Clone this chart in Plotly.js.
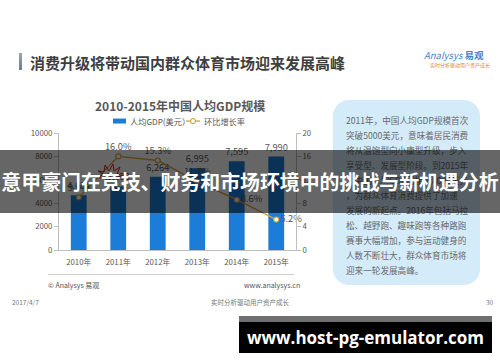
<!DOCTYPE html>
<html>
<head>
<meta charset="utf-8">
<script src="https://cdn.plot.ly/plotly-3.0.1.min.js"></script>
<style>
  html, body { margin: 0; padding: 0; background: #fff; }
  #slide { position: relative; width: 500px; height: 362px; overflow: hidden; background: #fff;
           font-family: "Noto Sans CJK SC", "Noto Sans", sans-serif; }
  .abs { position: absolute; white-space: nowrap; }
  #chart { position: absolute; left: 0; top: 0; width: 500px; height: 362px; z-index: 2; }
  #box { position: absolute; left: 333px; top: 100px; width: 147px; height: 185px; border-radius: 16px;
         background: #d4ebfa; z-index: 1; }
  #box div { position: absolute; left: 13px; font-size: 8.6px; color: #6a6a6a; line-height: 10px; white-space: nowrap; }
  #band { position: absolute; left: 0; top: 150px; width: 500px; height: 63px; background: rgba(0,0,0,0.6);
          z-index: 10; color: #fff; font-weight: bold; font-size: 19.9px; line-height: 63px; text-align: center;
          white-space: nowrap; }
  #banner { position: absolute; left: 239px; top: 316px; width: 253px; height: 37px; z-index: 11; background: #000; }
  #banner .strip { position: absolute; left: 0; top: 0; width: 253px; height: 6px; background: #707070; }
  #banner .txt { position: absolute; left: 0; top: 6px; width: 253px; height: 31px; line-height: 31px; text-align: center;
                 color: #fff; font-weight: bold; font-size: 17px; font-family: "Open Sans", "DejaVu Sans", sans-serif; }
</style>
</head>
<body>
<div id="slide">
  <!-- slide header -->
  <div class="abs" style="left:19px; top:53px; width:3px; height:17px; background:linear-gradient(#9aa7b4,#6d7c8a);"></div>
  <div class="abs" style="left:30px; top:52px; font-size:15px; font-weight:bold; color:#3e3e3e; line-height:22px;">消费升级将带动国内群众体育市场迎来发展高峰</div>
  <div class="abs" style="left:424px; top:49px; font-size:9.5px; color:#3f86c8; font-style:italic; line-height:12px;">Analysys <span style="font-style:normal;font-weight:bold;">易观</span></div>
  <div class="abs" style="left:430px; top:62px; font-size:5px; color:#e0892a; line-height:6px;">实时分析驱动用户资产成长</div>

  <!-- right text box -->
  <div id="box">
    <div style="top:15px;">2011年，中国人均GDP规模首次</div>
    <div style="top:30px;">突破5000美元，意味着居民消费</div>
    <div style="top:45px;">将从温饱型向小康型升级，步入</div>
    <div style="top:60px;">享受型、发展型阶段。到2015年</div>
    <div style="top:75px;">，中国人均GDP已接近8000美元</div>
    <div style="top:90px;">，为群众体育消费提供了加速</div>
    <div style="top:105px;">发展的新起点。2016年包括马拉</div>
    <div style="top:120px;">松、越野跑、趣味跑等各种路跑</div>
    <div style="top:135px;">赛事大幅增加，参与运动健身的</div>
    <div style="top:150px;">人数不断壮大，群众体育市场将</div>
    <div style="top:165px;">迎来一轮发展高峰。</div>
  </div>

  <!-- footer -->
  <div class="abs" style="left:48px; top:273.5px; width:246px; height:1px; background:#d0d0d0;"></div>
  <div class="abs" style="left:48px; top:281px; font-size:7px; color:#555; line-height:9px;">© Analysys 易观</div>
  <div class="abs" style="left:244px; width:48px; text-align:right; top:281px; font-size:7px; color:#555; line-height:9px;">www.analysys.cn</div>
  <div class="abs" style="left:12px; top:298px; font-size:6.5px; color:#777; line-height:9px;">2017/4/7</div>
  <div class="abs" style="left:200px; width:100px; text-align:center; top:298px; font-size:6.5px; color:#777; line-height:9px;">实时分析驱动用户资产成长</div>
  <div class="abs" style="left:486px; top:298px; font-size:6.5px; color:#777; line-height:9px;">30</div>

  <div id="chart"></div>

  <!-- red burst decoration -->
  <svg class="abs" style="left:96px; top:163px; z-index:3;" width="30" height="20" viewBox="0 0 30 20">
    <polygon points="2,8 8,9 9,2 13,8 17,1 18,8 24,4 21,11 28,13 20,14 22,19 15,15 10,19 10,14 3,15 7,11"
             fill="none" stroke="#d22" stroke-width="1"/>
  </svg>

  <div id="band">意甲豪门在竞技、财务和市场环境中的挑战与新机遇分析</div>
  <div id="banner"><div class="strip"></div><div class="txt">www.host-pg-emulator.com</div></div>
</div>

<script>
// ---- data ----
const years = ['2010年', '2011年', '2012年', '2013年', '2014年', '2015年'];
const gdpPerCapita = [4684, 5433, 6264, 6995, 7595, 7990];
const growthRate = [9.0, 16.0, 15.3, 11.7, 8.6, 5.2];
const leftTickVals = [0, 2000, 4000, 6000, 8000, 10000];
const rightTickVals = [0, 4, 8, 12, 16, 20];
const barName = '人均GDP(美元）';
const lineName = '环比增长率';
const chartTitle = '2010-2015年中国人均GDP规模';

const FONT = '"Noto Sans CJK SC", "Noto Sans", sans-serif';
const GRAY = '#595959';
const AXIS = '#bfbfbf';
const BLUE = '#1b7dd8';
const ORANGE = '#d9a23a';

// plot area in pixels: x 59..296, y 133..250.5
const PX = x => (x - 59) / 237;
const PY = y => (250.5 - y) / 117.5;

const linePos = growthRate.map((v, i) => (i >= 4 ? 'middle right' : 'top center'));

const traces = [
  {
    type: 'bar', x: years, y: gdpPerCapita, name: barName,
    marker: { color: BLUE }, width: 0.4,
    text: gdpPerCapita.map(v => v.toLocaleString('en-US')), textposition: 'outside',
    constraintext: 'none',
    textfont: { size: 9.3, color: GRAY, family: FONT }, cliponaxis: false,
    hoverinfo: 'none', showlegend: false
  },
  {
    type: 'scatter', mode: 'lines+markers+text', x: years, y: growthRate, yaxis: 'y2', name: lineName,
    line: { color: ORANGE, width: 1.3 },
    marker: { symbol: 'circle', size: 5, color: '#ffffff', line: { color: ORANGE, width: 1.1 } },
    text: growthRate.map(v => v.toFixed(1) + '%'), textposition: linePos,
    textfont: { size: 9.3, color: GRAY, family: FONT }, cliponaxis: false,
    hoverinfo: 'none', showlegend: false
  }
];

const layout = {
  width: 500, height: 362,
  margin: { l: 59, r: 204, t: 133, b: 111.5, pad: 0 },
  paper_bgcolor: 'rgba(0,0,0,0)', plot_bgcolor: 'rgba(0,0,0,0)',
  font: { family: FONT, color: GRAY, size: 8 },
  showlegend: false,
  xaxis: { type: 'category', showline: true, linecolor: AXIS, linewidth: 1, ticks: '', showgrid: false,
           zeroline: false, ticklabelstandoff: 5, tickfont: { size: 7.8, color: GRAY, family: FONT } },
  yaxis: { range: [0, 10000], tickvals: leftTickVals, tickformat: 'd', showline: true, linecolor: AXIS,
           ticks: 'outside', ticklen: 4, tickcolor: AXIS, showgrid: false, zeroline: false,
           tickfont: { size: 7.8, color: GRAY, family: FONT } },
  yaxis2: { overlaying: 'y', side: 'right', range: [0, 20], tickvals: rightTickVals, ticksuffix: '%',
            showline: true, linecolor: AXIS, ticks: 'outside', ticklen: 4, tickcolor: AXIS,
            showgrid: false, zeroline: false, tickfont: { size: 7.8, color: GRAY, family: FONT } },
  shapes: [
    // legend: bar swatch
    { type: 'rect', xref: 'paper', yref: 'paper', x0: PX(113), x1: PX(126), y0: PY(123.5), y1: PY(118.5),
      fillcolor: BLUE, line: { width: 0 } },
    // legend: line swatch
    { type: 'line', xref: 'paper', yref: 'paper', x0: PX(186), x1: PX(200), y0: PY(121), y1: PY(121),
      line: { color: ORANGE, width: 1.3 } },
    { type: 'circle', xref: 'paper', yref: 'paper', x0: PX(190.5), x1: PX(195.5), y0: PY(123.5), y1: PY(118.5),
      fillcolor: '#ffffff', line: { color: ORANGE, width: 1.1 } }
  ],
  annotations: [
    { text: '<b>' + chartTitle + '</b>', xref: 'paper', yref: 'paper', x: PX(180), y: PY(105),
      xanchor: 'center', yanchor: 'middle', showarrow: false,
      font: { size: 12, color: GRAY, family: FONT } },
    { text: barName, xref: 'paper', yref: 'paper', x: PX(128), y: PY(121),
      xanchor: 'left', yanchor: 'middle', showarrow: false,
      font: { size: 8.2, color: GRAY, family: FONT } },
    { text: lineName, xref: 'paper', yref: 'paper', x: PX(202), y: PY(121),
      xanchor: 'left', yanchor: 'middle', showarrow: false,
      font: { size: 8.2, color: GRAY, family: FONT } }
  ]
};

Plotly.newPlot('chart', traces, layout, { displayModeBar: false, staticPlot: true });
</script>
</body>
</html>
